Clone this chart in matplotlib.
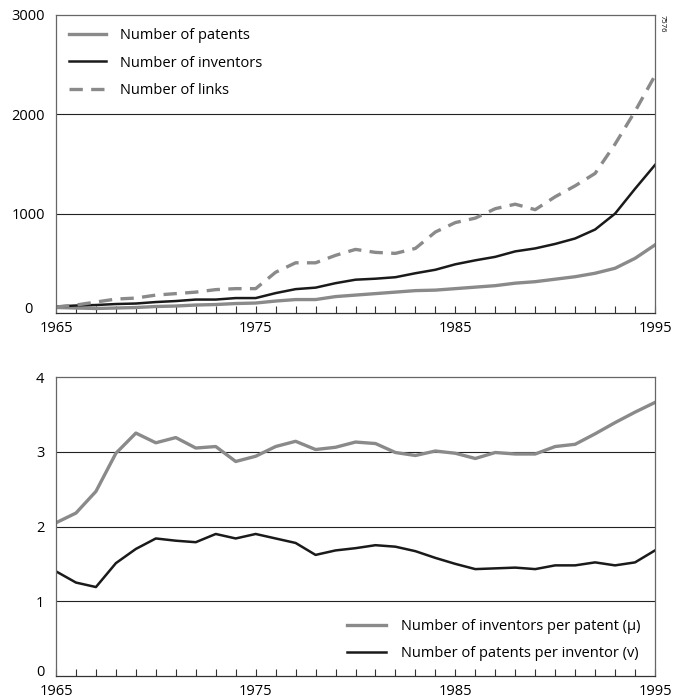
import matplotlib.pyplot as plt
from matplotlib.transforms import ScaledTranslation

plt.rcParams['font.family'] = ['Open Sans', 'DejaVu Sans']

years = list(range(1965, 1996))

patents = [55, 50, 45, 50, 55, 65, 70, 80, 85, 95, 100, 120, 135, 135, 165, 180,
           195, 210, 225, 230, 245, 260, 275, 300, 315, 340, 365, 400, 450, 550, 685]
inventors = [65, 75, 80, 90, 95, 110, 120, 135, 135, 150, 150, 200, 240, 255, 300, 335,
             345, 360, 400, 435, 490, 530, 565, 620, 650, 695, 750, 840, 1000, 1250, 1490]
links = [60, 80, 110, 140, 150, 180, 195, 210, 235, 245, 245, 410, 505, 505, 580, 640,
         610, 600, 650, 815, 910, 955, 1050, 1095, 1040, 1170, 1280, 1405, 1700, 2030, 2390]

mu = [2.05, 2.18, 2.47, 2.98, 3.25, 3.12, 3.19, 3.05, 3.07, 2.87, 2.94, 3.07, 3.14, 3.03,
      3.06, 3.13, 3.11, 2.99, 2.95, 3.01, 2.98, 2.91, 2.99, 2.97, 2.97, 3.07, 3.10, 3.24,
      3.39, 3.53, 3.66]
nu = [1.40, 1.25, 1.19, 1.51, 1.70, 1.84, 1.81, 1.79, 1.90, 1.84, 1.90, 1.84, 1.78, 1.62,
      1.68, 1.71, 1.75, 1.73, 1.67, 1.58, 1.50, 1.43, 1.44, 1.45, 1.43, 1.48, 1.48, 1.52,
      1.48, 1.52, 1.68]

year_labels = [1965, 1975, 1985, 1995]

gray = '#8a8a8a'
black = '#1a1a1a'

fig = plt.figure(figsize=(6.74, 7.0), dpi=100)
ax1 = fig.add_axes([0.0831, 0.5529, 0.8887, 0.4257])
ax2 = fig.add_axes([0.0831, 0.0343, 0.8887, 0.4271])


def style(ax, ymax, yticks, ypad):
    ax.set_xlim(1965, 1995)
    ax.set_ylim(0, ymax)
    ax.set_xticks(years, minor=True)
    ax.set_xticks(year_labels)
    ax.set_yticks(yticks)
    ax.tick_params(axis='x', which='both', direction='in', length=5, width=0.8,
                   color='#333333', labelsize=10.5, pad=5.5)
    ax.tick_params(axis='y', length=0, labelsize=10.5, pad=ypad)
    for lbl in ax.get_yticklabels():
        lbl.set_horizontalalignment('center')
    # lift the zero label a little so it clears the first year label
    zero = ax.get_yticklabels()[0]
    zero.set_transform(zero.get_transform() + ScaledTranslation(0, 4 / 72, fig.dpi_scale_trans))
    for t in ax.get_yticks():
        if 0 < t < ymax:
            ax.axhline(t, color='#222222', lw=0.8, zorder=0)
    for s in ax.spines.values():
        s.set_color('#666666')
        s.set_linewidth(0.9)
    ax.spines['bottom'].set_color('#333333')


ax1.plot(years, patents, color=gray, lw=2.4, label='Number of patents')
ax1.plot(years, inventors, color=black, lw=1.8, label='Number of inventors')
ax1.plot(years, links, color=gray, lw=2.4, ls=(0, (4, 2.5)), label='Number of links')
style(ax1, 3000, [0, 1000, 2000, 3000], 20)
ax1.legend(loc='upper left', frameon=False, fontsize=10.5, handlelength=2.5,
           handletextpad=1.0, labelspacing=0.85, borderaxespad=0.5)
fig.text(0.983, 0.978, '7576', rotation=270, fontsize=5.5, ha='center', va='top')

ax2.plot(years, mu, color=gray, lw=2.4, label='Number of inventors per patent (\u03bc)')
ax2.plot(years, nu, color=black, lw=1.8, label='Number of patents per inventor (v)')
style(ax2, 4, [0, 1, 2, 3, 4], 11.5)
ax2.legend(loc='lower right', frameon=False, fontsize=10.5, handlelength=2.7,
           handletextpad=1.0, labelspacing=0.85, borderaxespad=0.6)

fig.savefig('out.png', dpi=100)
